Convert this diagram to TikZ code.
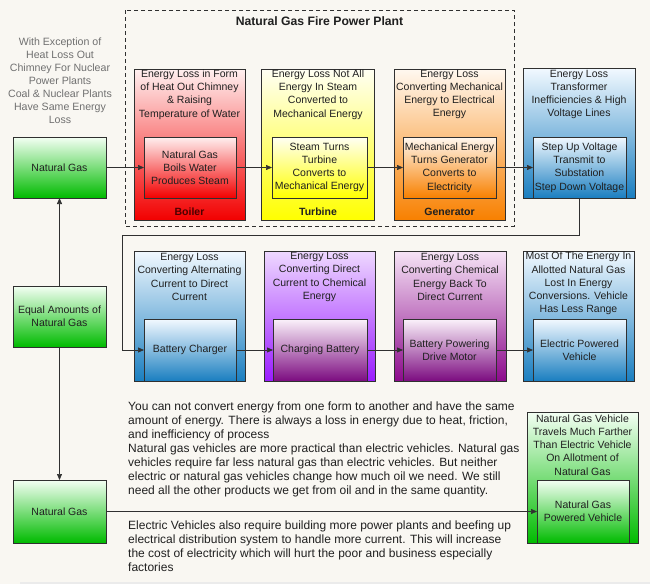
\documentclass[tikz,border=0pt]{standalone}
\usepackage{fontspec}
\setmainfont{Liberation Sans}
\usetikzlibrary{arrows.meta}
\definecolor{bgc}{HTML}{F9F7F2}
\definecolor{lnc}{HTML}{303030}
\definecolor{txc}{HTML}{202020}
\definecolor{grayt}{HTML}{707070}
\definecolor{redT}{HTML}{FFF0F0}\definecolor{redB}{HTML}{F20000}
\definecolor{yelT}{HTML}{FFFFF4}\definecolor{yelB}{HTML}{FFFF00}
\definecolor{oraT}{HTML}{FFF8F0}\definecolor{oraB}{HTML}{F88000}
\definecolor{bluT}{HTML}{F2F9FF}\definecolor{bluB}{HTML}{1A7EC0}
\definecolor{greT}{HTML}{F4FFF4}\definecolor{greB}{HTML}{00BB00}
\definecolor{vioT}{HTML}{EED8FF}\definecolor{vioB}{HTML}{9A1CFF}
\definecolor{vinT}{HTML}{FBF2FB}\definecolor{vinB}{HTML}{7C0C80}
\definecolor{magT}{HTML}{F6E4F6}\definecolor{magB}{HTML}{8C0A8C}
\newcommand\bxfont{\fontsize{10.5}{13.2}\selectfont}
\newcommand\parfont{\fontsize{12}{14}\selectfont}
\begin{document}
\begin{tikzpicture}[x=1pt,y=-1pt,
  bx/.style={draw=lnc, line width=0.8pt, inner sep=0pt, outer sep=0pt, align=center, font=\bxfont, text=txc},
  ttl/.style={align=center, font=\bxfont, text=txc, inner sep=0pt},
  lbl/.style={font=\bxfont\bfseries, text=txc, inner sep=0pt},
  redS/.style={top color=redT, bottom color=redB},
  yelS/.style={top color=yelT, bottom color=yelB},
  oraS/.style={top color=oraT, bottom color=oraB},
  bluS/.style={top color=bluT, bottom color=bluB},
  greS/.style={top color=greT, bottom color=greB},
  vioS/.style={top color=vioT, bottom color=vioB},
  vinS/.style={top color=vinT, bottom color=vinB},
  magS/.style={top color=magT, bottom color=magB},
  conn/.style={draw=lnc, line width=0.7pt, -{Triangle[length=6pt,width=5pt]}},
  para/.style={align=left, font=\parfont, text=txc, inner sep=0pt, anchor=west}]
\useasboundingbox (0,0) rectangle (650,584);
\fill[bgc] (0,0) rectangle (650,584);
\fill[black!8] (20,581.5) rectangle (650,584);

% gray note
\node[align=center, font=\fontsize{10.6}{13}\selectfont, text=grayt, inner sep=0pt] (note) at (60,81)
 {With Exception of\\Heat Loss Out\\Chimney For Nuclear\\Power Plants\\Coal \& Nuclear Plants\\Have Same Energy\\Loss};

% power plant frame
\draw[lnc, line width=0.8pt, dash pattern=on 4pt off 3pt] (125,10) rectangle (514,226);
\node[font=\fontsize{12.2}{14}\selectfont\bfseries, text=txc, inner sep=0pt] (plant) at (319.5,21) {Natural Gas Fire Power Plant};

% row 1 outer boxes
\node[bx, redS, minimum width=111, minimum height=151] (boilerO) at (189.5,144.5) {};
\node[bx, yelS, minimum width=113, minimum height=151] (turbO) at (318,144.5) {};
\node[bx, oraS, minimum width=111, minimum height=151] (genO) at (449.5,144.5) {};
\node[bx, bluS, minimum width=112, minimum height=130] (transO) at (579,133) {};

\node[ttl] (boilerT) at (189.5,94.5) {Energy Loss in Form\\of Heat Out Chimney\\\& Raising\\Temperature of Water};
\node[ttl] (turbT) at (318,94.5) {Energy Loss Not All\\Energy In Steam\\Converted to\\Mechanical Energy};
\node[ttl] (genT) at (449.5,94.5) {Energy Loss\\Converting Mechanical\\Energy to Electrical\\Energy};
\node[ttl] (transT) at (579,94.5) {Energy Loss\\Transformer\\Inefficiencies \& High\\Voltage Lines};

\node[bx, redS, minimum width=92, minimum height=61] (boilerI) at (190,167.5) {Natural Gas\\Boils Water\\Produces Steam};
\node[bx, yelS, minimum width=95, minimum height=61] (turbI) at (319.5,167.5) {Steam Turns\\Turbine\\Converts to\\Mechanical Energy};
\node[bx, oraS, minimum width=93, minimum height=61] (genI) at (449.5,167.5) {Mechanical Energy\\Turns Generator\\Converts to\\Electricity};
\node[bx, bluS, minimum width=93, minimum height=61] (transI) at (579.5,167.5) {Step Up Voltage\\Transmit to\\Substation\\Step Down Voltage};

\node[lbl, text=red!30!black] (boilerL) at (189.5,211.5) {Boiler};
\node[lbl] (turbL) at (318,211.5) {Turbine};
\node[lbl] (genL) at (449.5,211.5) {Generator};

% row 2 outer boxes
\node[bx, bluS, minimum width=111, minimum height=130] (chgO) at (189.5,316) {};
\node[bx, vioS, minimum width=111, minimum height=130] (batO) at (319.5,316) {};
\node[bx, magS, minimum width=112, minimum height=130] (motO) at (450,316) {};
\node[bx, bluS, minimum width=111, minimum height=130] (evO) at (578.5,316) {};

\node[ttl] (chgT) at (189.5,277) {Energy Loss\\Converting Alternating\\Current to Direct\\Current};
\node[ttl] (batT) at (319.5,277) {Energy Loss\\Converting Direct\\Current to Chemical\\Energy};
\node[ttl] (motT) at (450,277) {Energy Loss\\Converting Chemical\\Energy Back To\\Direct Current};
\node[ttl] (evT) at (578.5,283.5) {Most Of The Energy In\\Allotted Natural Gas\\Lost In Energy\\Conversions. Vehicle\\Has Less Range};

\node[bx, bluS, minimum width=92, minimum height=62] (chgI) at (190,350) {Battery Charger};
\node[bx, vinS, minimum width=94, minimum height=62] (batI) at (320,350) {Charging Battery};
\node[bx, vinS, minimum width=93, minimum height=62] (motI) at (449.5,350) {Battery Powering\\Drive Motor};
\node[bx, bluS, minimum width=93, minimum height=62] (evI) at (579.5,350) {Electric Powered\\Vehicle};

% natural gas vehicle
\node[bx, greS, minimum width=111, minimum height=131] (ngvO) at (582.5,477.5) {};
\node[ttl] (ngvT) at (582.5,445) {Natural Gas Vehicle\\Travels Much Farther\\Than Electric Vehicle\\On Allotment of\\Natural Gas};
\node[bx, greS, minimum width=92, minimum height=63] (ngvI) at (583,511.5) {Natural Gas\\Powered Vehicle};

% green source boxes
\node[bx, greS, minimum width=93, minimum height=61] (ng1) at (59.5,167.5) {Natural Gas};
\node[bx, greS, minimum width=93, minimum height=61] (eq) at (59.5,316.5) {Equal Amounts of\\Natural Gas};
\node[bx, greS, minimum width=93, minimum height=63] (ng2) at (59.5,511.5) {Natural Gas};

% connectors
\coordinate (bend) at (122,235);
\draw[conn] (ng1.east) -- (boilerI.west);
\draw[conn] (boilerI.east) -- (turbI.west);
\draw[conn] (turbI.east) -- (genI.west);
\draw[conn] (genI.east) -- (transI.west);
\draw[conn] (transI.south) |- (bend) |- (chgI.west);
\draw[conn] (chgI.east) -- (batI.west);
\draw[conn] (batI.east) -- (motI.west);
\draw[conn] (motI.east) -- (evI.west);
\draw[conn] (eq.north) -- (ng1.south);
\draw[conn] (eq.south) -- (ng2.north);
\draw[conn] (ng2.east) -- (ngvI.west);

% paragraphs
\node[para] (p1) at (128,449) {You can not convert energy from one form to another and have the same\\amount of energy. There is always a loss in energy due to heat, friction,\\and inefficiency of process\\Natural gas vehicles are more practical than electric vehicles. Natural gas\\vehicles require far less natural gas than electric vehicles. But neither\\electric or natural gas vehicles change how much oil we need. We still\\need all the other products we get from oil and in the same quantity.};
\node[para] (p2) at (128,546) {Electric Vehicles also require building more power plants and beefing up\\electrical distribution system to handle more current. This will increase\\the cost of electricity which will hurt the poor and business especially\\factories};
\end{tikzpicture}
\end{document}
